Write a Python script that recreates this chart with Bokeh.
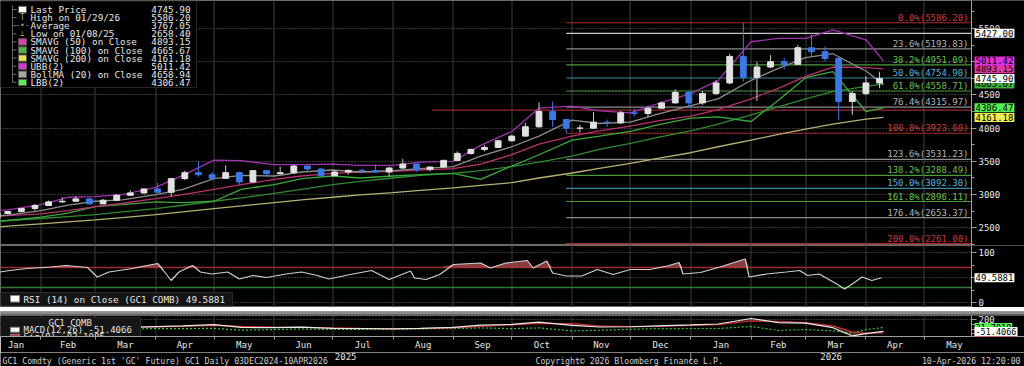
import numpy as np
import pandas as pd
from bokeh.plotting import figure
from bokeh.layouts import column
from bokeh.models import Range1d, FixedTicker, Label, ColumnDataSource
from bokeh.core.properties import value
from bokeh.embed import file_html
from bokeh.resources import INLINE

# ======================= DATA =======================
bar_start = "2025-01-08"          # weekly bars (mid-week dates)
opens = [2660, 2715, 2745, 2790, 2835, 2890, 2900, 2935, 2860, 2915, 2990, 3025, 3085, 3035, 3240, 3330,
         3300, 3245, 3330, 3190, 3360, 3315, 3330, 3430, 3385, 3285, 3340, 3365, 3360, 3340, 3400, 3460,
         3380, 3415, 3515, 3620, 3680, 3710, 3810, 3880, 4020, 4250, 4130, 4000, 4000, 4090, 4080, 4230,
         4220, 4300, 4380, 4540, 4380, 4520, 4680, 5080, 4765, 4920, 5000, 4960, 5210, 5150, 5050, 4400,
         4520, 4680]
highs = [2725, 2750, 2800, 2860, 2910, 2960, 2975, 2955, 2935, 3005, 3065, 3090, 3175, 3250, 3360, 3500,
         3340, 3440, 3340, 3370, 3370, 3420, 3450, 3435, 3400, 3370, 3375, 3390, 3455, 3420, 3535, 3465,
         3420, 3525, 3650, 3690, 3745, 3825, 3900, 4080, 4390, 4400, 4140, 4050, 4240, 4130, 4260, 4290,
         4330, 4400, 4585, 4560, 4560, 4720, 5120, 5586.2, 5000, 5100, 5060, 5250, 5427, 5230, 5060, 4560,
         4780, 4850]
lows = [2658.4, 2700, 2735, 2760, 2830, 2880, 2895, 2855, 2860, 2900, 2985, 3010, 3030, 2975, 3220, 3270,
        3215, 3240, 3150, 3180, 3270, 3310, 3310, 3355, 3270, 3280, 3300, 3320, 3330, 3270, 3385, 3340,
        3350, 3410, 3510, 3600, 3650, 3700, 3800, 3870, 4010, 4020, 3923.6, 3935, 3990, 4020, 4060, 4180,
        4170, 4290, 4370, 4300, 4350, 4500, 4660, 4700, 4410, 4900, 4880, 4950, 5080, 5000, 4120, 4200,
        4500, 4600]
closes = [2715, 2745, 2790, 2835, 2890, 2900, 2935, 2860, 2915, 2990, 3025, 3085, 3035, 3240, 3330, 3300,
          3245, 3330, 3190, 3360, 3315, 3330, 3430, 3385, 3285, 3340, 3365, 3360, 3340, 3400, 3460, 3380,
          3415, 3515, 3620, 3680, 3710, 3810, 3880, 4020, 4250, 4130, 4000, 4000, 4090, 4080, 4230, 4220,
          4300, 4380, 4540, 4380, 4520, 4680, 5080, 4765, 4920, 5000, 4960, 5210, 5150, 5050, 4400, 4520,
          4680, 4745.9]

ind_dates = ["2025-01-10", "2025-01-15", "2025-02-01", "2025-02-15", "2025-03-01", "2025-03-15", "2025-04-01",
             "2025-04-15", "2025-05-01", "2025-05-15", "2025-06-01", "2025-06-15", "2025-07-01", "2025-07-15",
             "2025-08-01", "2025-08-15", "2025-09-01", "2025-09-15", "2025-10-01", "2025-10-15", "2025-11-01",
             "2025-11-15", "2025-12-01", "2025-12-15", "2026-01-01", "2026-01-15", "2026-02-01", "2026-02-15",
             "2026-03-01", "2026-03-15", "2026-04-01", "2026-04-10"]
sma50 = [2680, 2685, 2710, 2760, 2820, 2870, 2940, 3000, 3080, 3150, 3230, 3280, 3320, 3340, 3350, 3370,
         3390, 3460, 3600, 3760, 3880, 3960, 4030, 4110, 4180, 4280, 4440, 4600, 4780, 4920, 4910, 4893.15]
sma100 = [2600, 2610, 2640, 2670, 2700, 2740, 2790, 2840, 2900, 2950, 3020, 3080, 3150, 3200, 3250, 3290,
          3320, 3360, 3420, 3490, 3580, 3680, 3770, 3860, 3960, 4060, 4200, 4320, 4440, 4550, 4630, 4665.67]
sma200 = [2510, 2525, 2560, 2590, 2620, 2655, 2700, 2740, 2790, 2830, 2880, 2920, 2960, 2995, 3030, 3065,
          3100, 3140, 3180, 3250, 3325, 3395, 3470, 3545, 3630, 3720, 3820, 3905, 3985, 4060, 4135, 4161.18]
boll_ma = [2680, 2690, 2760, 2840, 2900, 2920, 3000, 3080, 3240, 3290, 3280, 3340, 3370, 3340, 3360, 3390,
           3420, 3580, 3720, 3880, 4120, 4070, 4090, 4210, 4340, 4440, 4720, 4900, 5060, 5120, 4860, 4658.94]
ubb = [2760, 2770, 2850, 2960, 2970, 3000, 3110, 3290, 3520, 3510, 3450, 3450, 3460, 3440, 3440, 3490,
       3500, 3740, 3950, 4300, 4330, 4260, 4230, 4370, 4520, 4720, 5300, 5350, 5350, 5480, 5330, 5011.42]
lbb = [2600, 2610, 2660, 2720, 2820, 2850, 2890, 2880, 2900, 3080, 3150, 3240, 3280, 3250, 3280, 3300,
       3320, 3230, 3430, 3600, 3820, 3880, 3950, 4050, 4150, 4170, 4100, 4420, 4760, 4850, 4250, 4306.47]

rsi_dates = ["2025-01-11", "2025-01-16", "2025-01-25", "2025-02-06", "2025-02-14", "2025-02-25", "2025-03-02",
             "2025-03-08", "2025-03-20", "2025-04-02", "2025-04-05", "2025-04-09", "2025-04-13", "2025-04-20",
             "2025-04-24", "2025-04-30", "2025-05-08", "2025-05-14", "2025-05-21", "2025-05-28", "2025-06-07",
             "2025-06-15", "2025-06-23", "2025-06-29", "2025-07-10", "2025-07-21", "2025-07-30", "2025-08-10",
             "2025-08-12", "2025-08-18", "2025-08-25", "2025-09-01", "2025-09-15", "2025-09-20", "2025-09-28",
             "2025-10-09", "2025-10-12", "2025-10-19", "2025-10-22", "2025-10-29", "2025-11-06", "2025-11-14",
             "2025-11-22", "2025-12-01", "2025-12-11", "2025-12-20", "2025-12-26", "2025-12-28", "2026-01-06",
             "2026-01-16", "2026-01-29", "2026-01-31", "2026-02-09", "2026-02-19", "2026-02-26", "2026-03-02",
             "2026-03-08", "2026-03-17", "2026-03-21", "2026-03-25", "2026-03-30", "2026-04-04", "2026-04-09"]
rsi_vals = [61, 64, 68, 71, 74, 70, 51, 61, 68, 78, 64, 44, 61, 74, 61, 57, 61, 47, 54, 50, 57, 61, 54, 47,
            56, 64, 46, 63, 49, 46, 56, 76, 79, 69, 79, 84, 69, 83, 59, 53, 53, 66, 56, 66, 66, 73, 80, 57,
            60, 71, 87, 51, 57, 61, 64, 54, 57, 37, 27, 37, 51, 44, 49.5881]
rsi_levels = [70, 30]

macd_dates = ["2025-01-10", "2025-01-15", "2025-02-01", "2025-02-15", "2025-03-01", "2025-03-15", "2025-04-01",
              "2025-04-15", "2025-05-01", "2025-05-15", "2025-06-01", "2025-06-15", "2025-07-01", "2025-07-15",
              "2025-08-01", "2025-08-15", "2025-09-01", "2025-09-15", "2025-10-01", "2025-10-15", "2025-11-01",
              "2025-11-15", "2025-12-01", "2025-12-15", "2026-01-01", "2026-01-15", "2026-02-01", "2026-02-15",
              "2026-03-01", "2026-03-15", "2026-03-25", "2026-04-01", "2026-04-10"]
macd_vals = [30, 32, 45, 50, 30, 35, 55, 70, 95, 35, 30, 40, 15, 10, 5, 15, 35, 85, 100, 150, 80, 45, 50, 70,
             90, 110, 230, 140, 130, 30, -150, -100, -51.4066]
signal_vals = [25, 26, 38, 46, 40, 36, 45, 60, 80, 60, 40, 38, 25, 15, 8, 10, 25, 60, 90, 125, 120, 70, 55,
               60, 78, 98, 175, 170, 140, 70, -60, -90, -83.1085]

fib_start = "2025-10-29"
fib_labels = ["0.0%", "23.6%", "38.2%", "50.0%", "61.8%", "76.4%", "100.0%", "123.6%", "138.2%", "150.0%",
              "161.8%", "176.4%", "200.0%"]
fib_values = [5586.20, 5193.83, 4951.09, 4754.90, 4558.71, 4315.97, 3923.60, 3531.23, 3288.49, 3092.30,
              2896.11, 2653.37, 2261.00]
ref_levels = [5427.00, 4270.0]
ref_starts = ["2025-10-29", "2025-08-21"]

legend_names = ["Last Price", "High on 01/29/26", "Average", "Low on 01/08/25", "SMAVG (50)  on Close",
                "SMAVG (100)  on Close", "SMAVG (200)  on Close", "UBB(2)", "BollMA (20)  on Close", "LBB(2)"]
legend_values = ["4745.90", "5586.20", "3767.05", "2658.40", "4893.15", "4665.67", "4161.18", "5011.42",
                 "4658.94", "4306.47"]

footer_left = "GC1 Comdty (Generic 1st 'GC' Future) GC1 Daily 03DEC2024-10APR2026"
footer_mid = "Copyright\u00a9 2026 Bloomberg Finance L.P."
footer_right = "10-Apr-2026 12:20:00"

# ======================= STYLE / LAYOUT =======================
FONT = "DejaVu Sans Mono"
W = 1024
FRAME_W = 971                      # px position of the price axis
X0, X1 = 10.28, 509.25             # visible day range up to the axis
XE = X0 + W * (X1 - X0) / FRAME_W  # day value at the right page edge
MAIN_H, RSI_H, BAND_H, MACD_FRAME, MACD_AXIS = 245, 62, 8, 24, 13
MACD_TOP = MAIN_H + RSI_H + BAND_H
FOOT_H = 366 - (MACD_TOP + MACD_FRAME + MACD_AXIS)
MAIN_Y = (2234.0, 5921.0)
RSI_Y = (-10.0, 114.0)
MACD_Y = (-162.0, 295.0)
HGRID_COL = "#6e6e6e"
VGRID_COL = "#3c3c3c"

fib_text_colors = ["#d23a3a", "#b4b4b4", "#6cc04a", "#5ab4d0", "#6cc04a", "#b4b4b4", "#d23a3a", "#b4b4b4",
                   "#6cc04a", "#5ab4d0", "#6cc04a", "#b4b4b4", "#d23a3a"]
fib_line_colors = ["#a82a2a", "#8c8c8c", "#4a9a3a", "#3a8aa0", "#4a9a3a", "#8c8c8c", "#a82a2a", "#8c8c8c",
                   "#4a9a3a", "#3a8aa0", "#4a9a3a", "#8c8c8c", "#a82a2a"]
ref_colors = ["#c8c8c8", "#9a2a2a"]
legend_sq_colors = ["#ffffff", None, None, None, "#e040b0", "#44bb44", "#e8e24c", "#dd33dd", "#a8a8a8", "#55ee55"]

BASE = pd.Timestamp("2025-01-01")
DAY_PER_PX = (X1 - X0) / FRAME_W


def days(d):
    s = pd.to_datetime(pd.Series(list(d)))
    return ((s - BASE).dt.total_seconds() / 86400.0).to_numpy()


def dx(px):
    return X0 + px * DAY_PER_PX


def ym(py):
    return MAIN_Y[1] - py * (MAIN_Y[1] - MAIN_Y[0]) / MAIN_H


def yr(py):
    return RSI_Y[1] - (py - MAIN_H) * (RSI_Y[1] - RSI_Y[0]) / RSI_H


def yc(py):
    return MACD_Y[1] - (py - MACD_TOP) * (MACD_Y[1] - MACD_Y[0]) / MACD_FRAME


xr = Range1d(X0, XE)
month_starts = [float(v) for v in days(pd.date_range("2025-01-01", "2026-05-01", freq="MS"))]
month_names = [d.strftime("%b") for d in pd.date_range("2025-01-01", "2026-05-01", freq="MS")]
bounds = month_starts + [float(days(["2026-06-01"])[0])]
mids = [float((a + b) / 2) for a, b in zip(bounds[:-1], bounds[1:])]
mids[0] = float(max(mids[0], X0 + 8))
# month separators, snapped to pixel centres
sep_x = [float(dx(np.floor((m - X0) / DAY_PER_PX) + 0.5)) for m in month_starts if X0 < m < X1]


def make_fig(h, yrange, xaxis=False, bottom=0):
    p = figure(width=W, height=h, x_range=xr, y_range=Range1d(*yrange), output_backend="svg",
               toolbar_location=None, x_axis_location="below" if xaxis else None, y_axis_location="right",
               min_border_left=0, min_border_right=0, min_border_top=0, min_border_bottom=bottom,
               background_fill_color="black", border_fill_color="black", outline_line_color="#6a6a6a")
    p.xgrid.visible = False
    p.ygrid.grid_line_color = HGRID_COL
    p.ygrid.grid_line_dash = "1 2"
    k = len(sep_x)
    p.segment(x0=sep_x, x1=sep_x, y0=[yrange[0]] * k, y1=[yrange[1]] * k, line_color=VGRID_COL,
              line_width=1)
    # blank strip right of the price axis (hides grid lines there)
    p.quad(left=X1, right=XE, bottom=yrange[0], top=yrange[1], fill_color="black", line_color=None)
    return p


def style_y(p, ticks, minor):
    ax = p.yaxis[0]
    ax.fixed_location = X1
    ax.ticker = FixedTicker(ticks=ticks, minor_ticks=minor)
    ax.axis_line_color = "#a0a0a0"
    ax.major_tick_line_color = "#a0a0a0"
    ax.minor_tick_line_color = "#a0a0a0"
    ax.major_tick_out = 5
    ax.major_tick_in = 0
    ax.minor_tick_out = 3
    ax.minor_tick_in = 0
    ax.major_label_standoff = 2
    ax.major_label_text_color = "#e8e8e8"
    ax.major_label_text_font = FONT
    ax.major_label_text_font_size = "9px"


def tag(p, yv, txt, col, fsize="9px"):
    p.add_layout(Label(x=FRAME_W + 3, y=yv, x_units="screen", y_units="data", text=txt, text_font=FONT,
                       text_font_size=fsize, text_color="black", text_baseline="middle",
                       background_fill_color=col, background_fill_alpha=1.0, padding=1))


# ======================= MAIN PANEL =======================
p = make_fig(MAIN_H, MAIN_Y)
style_y(p, list(range(2500, 6000, 500)), list(range(2250, 6000, 250)))

n = len(fib_values)
fx0 = float(days([fib_start])[0])
p.segment(x0=[fx0] * n, x1=[X1] * n, y0=fib_values, y1=fib_values, line_color=fib_line_colors, line_width=1.2)
for lv, st, col in zip(ref_levels, ref_starts, ref_colors):
    s0 = float(days([st])[0])
    p.segment(x0=[s0], x1=[X1], y0=[lv], y1=[lv], line_color=col, line_width=1.2)
p.text(x=[X1] * n, y=fib_values, text=[f"{a}({v:.2f})" for a, v in zip(fib_labels, fib_values)],
       text_align="right", text_baseline="bottom", x_offset=-3, y_offset=0, text_color=fib_text_colors,
       text_font=value(FONT), text_font_size="9px")

ix = days(ind_dates)
p.line(ix, sma200, line_color="#b8b070", line_width=1.3)
p.line(ix, sma100, line_color="#2e8b2e", line_width=1.3)
p.line(ix, lbb, line_color="#3aa83a", line_width=1.3)
p.line(ix, sma50, line_color="#b8306e", line_width=1.3)
p.line(ix, boll_ma, line_color="#8c8c8c", line_width=1.3)
p.line(ix, ubb, line_color="#a030b0", line_width=1.3)

wx = days(pd.date_range(bar_start, periods=len(closes), freq="7D"))
o, h, l, c = map(np.array, (opens, highs, lows, closes))
up = c >= o
src = ColumnDataSource(dict(x=wx, top=np.maximum(o, c), bottom=np.minimum(o, c), high=h, low=l,
                            col=np.where(up, "#e2e2e2", "#3b78e6"), wcol=np.where(up, "#c8c8c8", "#3b78e6")))
p.segment(x0="x", x1="x", y0="low", y1="high", line_color="wcol", line_width=1, source=src)
p.vbar(x="x", width=3.0, top="top", bottom="bottom", fill_color="col", line_color="col", source=src)

# legend box
rows = [9 + 8.1 * i for i in range(len(legend_names))]
p.quad(left=dx(0), right=dx(196), top=ym(0.5), bottom=ym(87), fill_color="black", line_color="#262626")
p.segment(x0=[dx(12)], x1=[dx(12)], y0=[ym(5)], y1=[ym(82)], line_color="#6a6a6a")
p.segment(x0=[dx(12)] * len(rows), x1=[dx(16)] * len(rows), y0=[ym(r) for r in rows],
          y1=[ym(r) for r in rows], line_color="#6a6a6a")
sq = [(r, col) for r, col in zip(rows, legend_sq_colors) if col]
p.quad(left=dx(18), right=dx(26), top=[ym(r - 3.2) for r, _ in sq], bottom=[ym(r + 3.2) for r, _ in sq],
       fill_color=[col for _, col in sq], line_color="#555555")
p.text(x=dx(22), y=[ym(rows[1]), ym(rows[2]), ym(rows[3])], text=["T", "-\u2022-", "\u22a5"],
       text_align="center", text_baseline="middle", text_color="#9a9a9a", text_font=value(FONT),
       text_font_size="8px")
p.text(x=dx(30), y=[ym(r) for r in rows], text=legend_names, text_baseline="middle", text_color="#e6e6e6",
       text_font=value(FONT), text_font_size="9.3px")
p.text(x=dx(190), y=[ym(r) for r in rows], text=legend_values, text_align="right", text_baseline="middle",
       text_color="#e6e6e6", text_font=value(FONT), text_font_size="9.3px")

tag(p, ref_levels[0], f"{ref_levels[0]:.2f}", "#ffffff")
tag(p, sma100[-1], f"{sma100[-1]:.2f}", "#3fae3f")
tag(p, sma200[-1], f"{sma200[-1]:.2f}", "#f0ee52")
tag(p, lbb[-1], f"{lbb[-1]:.2f}", "#55ee55")
tag(p, sma50[-1], f"{sma50[-1]:.2f}", "#e0389c")
tag(p, ubb[-1], f"{ubb[-1]:.2f}", "#e030e0")
tag(p, closes[-1], f"{closes[-1]:.2f}", "#ffffff")

# ======================= RSI PANEL =======================
pr = make_fig(RSI_H, RSI_Y)
style_y(pr, [0, 100], [25, 50, 75])
pr.ygrid[0].ticker = FixedTicker(ticks=[0, 50, 100])
rx = days(rsi_dates)
rv = np.array(rsi_vals, dtype=float)
pr.segment(x0=[X0] * 2, x1=[X1] * 2, y0=rsi_levels, y1=rsi_levels, line_color=["#a52828", "#2e7d2e"],
           line_width=[1.4, 1.6])
pr.varea(x=rx, y1=rsi_levels[0], y2=np.maximum(rv, rsi_levels[0]), fill_color="#a04848", fill_alpha=0.85)
pr.line(rx, rv, line_color="#d0d0d0", line_width=1.2)
pr.quad(left=dx(0), right=dx(232), top=yr(292), bottom=yr(305.5), fill_color="#151515", line_color="#2c2c2c")
pr.quad(left=dx(10), right=dx(19), top=yr(295), bottom=yr(301.5), fill_color="white", line_color="#888888")
pr.text(x=dx(23), y=yr(298.5), text=[f"RSI (14)  on Close (GC1 COMB) {rsi_vals[-1]:.4f}"],
        text_baseline="middle", text_color="#e6e6e6", text_font=value(FONT), text_font_size="9.3px")
tag(pr, rsi_vals[-1], f"{rsi_vals[-1]:.4f}", "#ffffff")

# ======================= SCROLL BAND =======================
pb = figure(width=W, height=BAND_H, x_range=Range1d(0, W), y_range=Range1d(0, BAND_H), output_backend="svg",
            toolbar_location=None, x_axis_location=None, y_axis_location=None, min_border=0,
            background_fill_color="#3a3a3a", border_fill_color="#3a3a3a", outline_line_color=None)
pb.xgrid.visible = False
pb.ygrid.visible = False
pb.quad(left=[0], right=[W], bottom=[5], top=[8], fill_color="#8a8a8a", line_color=None)
pb.quad(left=[0], right=[W], bottom=[0.5], top=[4.2], fill_color="#6c6c6c", line_color=None)
pb.quad(left=[0], right=[143], bottom=[0.5], top=[4.2], fill_color="#9a9a9a", line_color=None)
pb.quad(left=[507], right=[517], bottom=[0.5], top=[4.2], fill_color="#b4b4b4", line_color=None)

# ======================= MACD PANEL =======================
pm = make_fig(MACD_FRAME + MACD_AXIS, MACD_Y, xaxis=True, bottom=MACD_AXIS)
style_y(pm, [200], [100, 0, -100])
mx = days(macd_dates)
mv = np.array(macd_vals, dtype=float)
sv = np.array(signal_vals, dtype=float)
pm.varea(x=mx, y1=mv, y2=sv, fill_color="#b04040", fill_alpha=0.45)
pm.line(mx, mv - sv, line_color="#3cc43c", line_dash="2 2", line_width=1.2)
pm.line(mx, sv, line_color="#c83232", line_width=1.2)
pm.line(mx, mv, line_color="#e8e8e8", line_width=1.2)
pm.quad(left=dx(0), right=dx(140), top=yc(317.5), bottom=yc(346), fill_color="#151515", line_color="#2c2c2c")
pm.text(x=dx(48), y=yc(323.5), text=["GC1 COMB"], text_baseline="middle", text_color="#e6e6e6",
        text_font=value(FONT), text_font_size="9px")
pm.quad(left=dx(10), right=dx(19), top=[yc(328.5), yc(336.5)], bottom=[yc(334), yc(342)],
        fill_color=["white", "#c83232"], line_color="#888888")
pm.text(x=dx(23), y=[yc(331.5), yc(339.5)],
        text=[f"MACD(12,26) {macd_vals[-1]:.4f}", f"Sig(9)      {signal_vals[-1]:.4f}"],
        text_baseline="middle", text_color="#e6e6e6", text_font=value(FONT), text_font_size="9px")
tag(pm, mv[-1] - sv[-1], f"{mv[-1] - sv[-1]:.4f}", "#55ee55", "8.5px")
tag(pm, signal_vals[-1], f"{signal_vals[-1]:.4f}", "#d84040", "8.5px")
tag(pm, macd_vals[-1], f"{macd_vals[-1]:.4f}", "#ffffff", "8.5px")

xa = pm.xaxis[0]
xa.ticker = FixedTicker(ticks=mids, minor_ticks=month_starts)
xa.major_label_overrides = {m: nm for m, nm in zip(mids, month_names)}
xa.major_tick_line_color = None
xa.major_tick_out = 0
xa.minor_tick_out = 3
xa.minor_tick_in = 0
xa.minor_tick_line_color = "#a0a0a0"
xa.axis_line_color = "#a0a0a0"
xa.major_label_standoff = 0
xa.major_label_text_color = "#e8e8e8"
xa.major_label_text_font = FONT
xa.major_label_text_font_size = "9px"

# ======================= FOOTER (years + source line) =======================
pf = figure(width=W, height=FOOT_H, x_range=xr, y_range=Range1d(0, FOOT_H), output_backend="svg",
            toolbar_location=None, x_axis_location=None, y_axis_location=None, min_border=0,
            background_fill_color="black", border_fill_color="black", outline_line_color=None)
pf.xgrid.visible = False
pf.ygrid.visible = False
year_pos = [float((X0 + 365) / 2), float((365 + X1) / 2)]
pf.text(x=year_pos, y=FOOT_H, text=["2025", "2026"], text_align="center", text_baseline="top",
        text_color="#e8e8e8", text_font=value(FONT), text_font_size="9px")
pf.segment(x0=[365.0], x1=[365.0], y0=[FOOT_H], y1=[FOOT_H - 9], line_color="#a0a0a0")
pf.text(x=[dx(2), dx(535)], y=0.5, text=[footer_left, footer_mid], text_baseline="bottom",
        text_color="#d0d0d0", text_font=value(FONT), text_font_size="8.2px")
pf.text(x=[dx(1020)], y=0.5, text=[footer_right], text_align="right", text_baseline="bottom",
        text_color="#d0d0d0", text_font=value(FONT), text_font_size="8.2px")

layout = column(p, pr, pb, pm, pf, spacing=0)
open("out.html", "w").write(file_html(layout, INLINE))
